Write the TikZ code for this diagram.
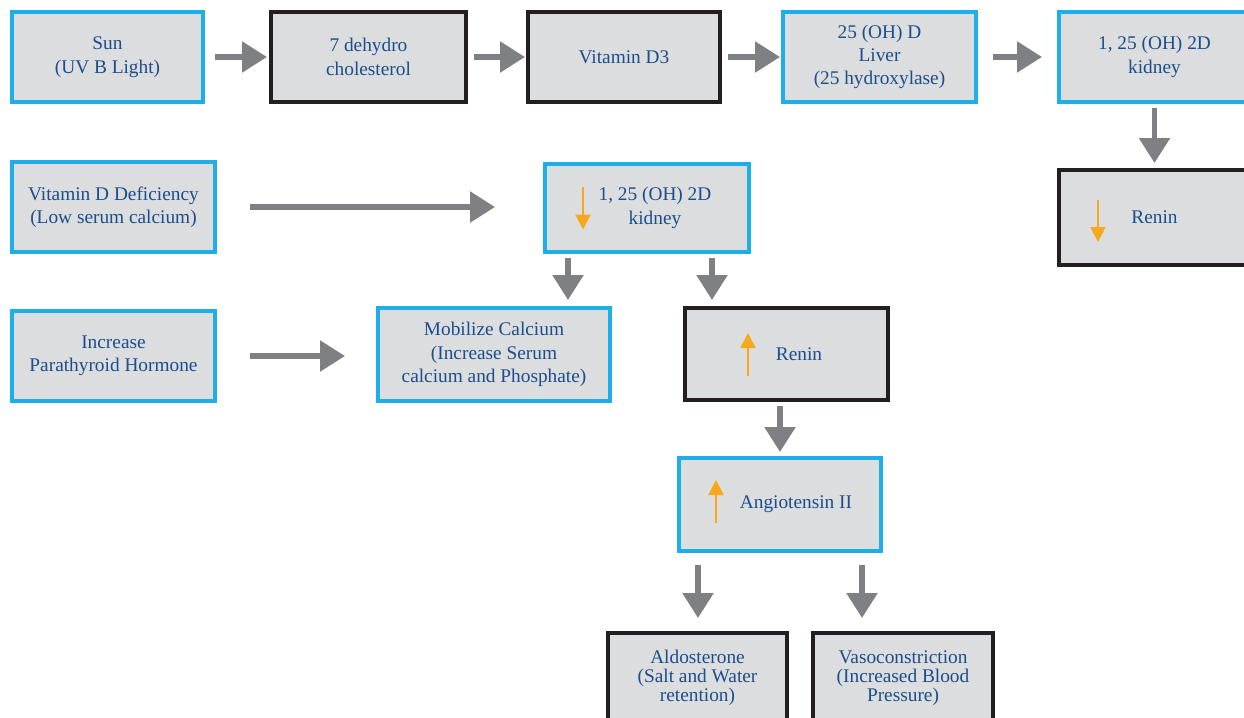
\documentclass[tikz,border=0pt]{standalone}
\usepackage{fontspec}
\setmainfont{Liberation Serif}
\usepackage{xcolor}
\usetikzlibrary{arrows.meta}
\definecolor{skyblue}{HTML}{1EAEE8}
\definecolor{darkline}{HTML}{231F20}
\definecolor{boxgray}{HTML}{DCDDDF}
\definecolor{flowgray}{HTML}{7F8084}
\definecolor{markorange}{HTML}{F8A81C}
\definecolor{textblue}{HTML}{1C4D8C}

\tikzset{
  box/.style={fill=boxgray, line width=0.08cm, text=textblue, align=center,
              inner sep=0pt, font=\fontsize{11}{13.3}\selectfont},
  cbox/.style={box, draw=skyblue},
  kbox/.style={box, draw=darkline},
  flow/.style={draw=flowgray, line width=0.11cm, -{Triangle[length=0.5cm, width=0.6cm]}},
  levelarrow/.style={draw=markorange, line width=0.04cm, -{Triangle[length=0.3cm, width=0.3cm]}}
}

\begin{document}
\begin{tikzpicture}
    \useasboundingbox (0,0) rectangle (24.88,-14.34);
    % first row
    \node[cbox, minimum width=3.82cm, minimum height=1.80cm] (sun) at (2.15,-1.14) {Sun\\(UV B Light)};
    \node[kbox, minimum width=3.90cm, minimum height=1.80cm] (dehydro) at (7.37,-1.14) {7 dehydro\\cholesterol};
    \node[kbox, minimum width=3.84cm, minimum height=1.80cm] (vitd3) at (12.48,-1.14) {Vitamin D3};
    \node[cbox, minimum width=3.86cm, minimum height=1.80cm] (liver) at (17.59,-1.14) {25 (OH) D\\Liver\\(25 hydroxylase)};
    \node[cbox, minimum width=3.82cm, minimum height=1.80cm] (kidtop) at (23.09,-1.14) {1, 25 (OH) 2D\\kidney};
    \node[kbox, minimum width=3.82cm, minimum height=1.90cm] (renlow) at (23.09,-4.35) {Renin};

    % deficiency
    \node[cbox, minimum width=4.06cm, minimum height=1.80cm] (vitdef) at (2.27,-4.14) {Vitamin D Deficiency\\(Low serum calcium)};
    \node[cbox, minimum width=4.08cm, minimum height=1.76cm] (kidmid) at (12.94,-4.16)
      {\hspace*{0.32cm}1, 25 (OH) 2D\\\hspace*{0.32cm}kidney};
    \node[cbox, minimum width=4.06cm, minimum height=1.80cm] (pth) at (2.27,-7.12) {Increase\\Parathyroid Hormone};
    \node[cbox, minimum width=4.64cm, minimum height=1.86cm] (mobil) at (9.88,-7.09)
      {Mobilize Calcium\\(Increase Serum\\calcium and Phosphate)};
    \node[kbox, minimum width=4.06cm, minimum height=1.84cm] (reninup) at (15.73,-7.08) {\hspace*{0.5cm}Renin};
    \node[cbox, minimum width=4.04cm, minimum height=1.86cm] (ang) at (15.60,-10.09) {\hspace*{0.64cm}Angiotensin II};

    % effects
    \node[kbox, minimum width=3.58cm, minimum height=1.80cm, font=\fontsize{11}{10.8}\selectfont] (aldo) at (13.95,-13.56)
      {Aldosterone\\(Salt and Water\\retention)};
    \node[kbox, minimum width=3.60cm, minimum height=1.80cm, font=\fontsize{11}{10.8}\selectfont] (vaso) at (18.06,-13.56)
      {Vasoconstriction\\(Increased Blood\\Pressure)};

    % gray arrows
    \draw[flow, shorten <=0.2cm, shorten >=0.04cm] (sun) -- (dehydro);
    \draw[flow, shorten <=0.12cm, shorten >=0.02cm] (dehydro) -- (vitd3);
    \draw[flow, shorten <=0.12cm, shorten >=0.02cm] (vitd3) -- (liver);
    \draw[flow, shorten <=0.3cm, shorten >=0.3cm] (liver) -- (kidtop);
    \draw[flow, shorten <=0.08cm, shorten >=0.1cm] (kidtop) -- (renlow);
    \draw[flow, shorten <=0.66cm, shorten >=0.96cm] (vitdef.east) -- (vitdef.east -| kidmid.west);
    \draw[flow, shorten <=0.66cm, shorten >=0.62cm] (pth.east) -- (pth.east -| mobil.west);
    \draw[flow, shorten <=0.08cm, shorten >=0.12cm] ([xshift=-1.58cm]kidmid.south) -- ([xshift=-1.58cm]kidmid.south |- mobil.north);
    \draw[flow, shorten <=0.08cm, shorten >=0.12cm] ([xshift=1.30cm]kidmid.south) -- ([xshift=1.30cm]kidmid.south |- reninup.north);
    \draw[flow, shorten <=0.08cm, shorten >=0.08cm] (reninup.south -| ang.north) -- (ang.north);
    \draw[flow, shorten <=0.24cm, shorten >=0.26cm] ([xshift=-1.64cm]ang.south) -- ([xshift=-1.64cm]ang.south |- aldo.north);
    \draw[flow, shorten <=0.24cm, shorten >=0.26cm] ([xshift=1.64cm]ang.south) -- ([xshift=1.64cm]ang.south |- vaso.north);

    % orange level arrows
    \draw[levelarrow] ([xshift=-1.28cm, yshift=0.43cm]kidmid.center) -- ++(0,-0.86);
    \draw[levelarrow] ([xshift=-1.13cm, yshift=0.35cm]renlow.center) -- ++(0,-0.84);
    \draw[levelarrow] ([xshift=-0.77cm, yshift=-0.44cm]reninup.center) -- ++(0,0.86);
    \draw[levelarrow] ([xshift=-1.28cm, yshift=-0.37cm]ang.center) -- ++(0,0.86);
\end{tikzpicture}
\end{document}
